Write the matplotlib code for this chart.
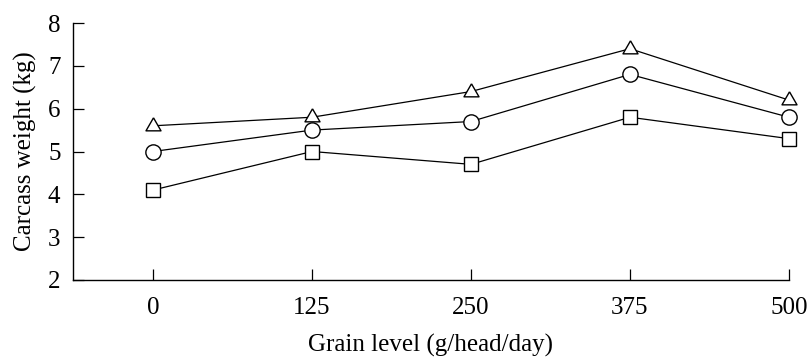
import matplotlib
matplotlib.use("Agg")
import matplotlib.pyplot as plt

grain = [0, 125, 250, 375, 500]
tri_vals = [5.6, 5.8, 6.4, 7.4, 6.2]
circ_vals = [5.0, 5.5, 5.7, 6.8, 5.8]
sq_vals = [4.1, 5.0, 4.7, 5.8, 5.3]
yticks = [2, 3, 4, 5, 6, 7, 8]

plt.rcParams['font.family'] = ['Liberation Serif', 'DejaVu Serif']
plt.rcParams['mathtext.fontset'] = 'stix'

fig = plt.figure(figsize=(8.09, 3.6), dpi=100)
ax = fig.add_axes([73/809, 1-280/360, (789-73)/809, (280-23)/360])

# triangle centred on its centroid
tri_marker = [(0, 2), (-1.73, -1), (1.73, -1), (0, 2)]

common = dict(color='black', lw=0.9, mfc='white', mec='black', mew=1, clip_on=False)
ax.plot(grain, tri_vals, marker=tri_marker, ms=12.5, **common)
ax.plot(grain, circ_vals, marker='o', ms=11, **common)
ax.plot(grain, sq_vals, marker='s', ms=9.4, **common)

ax.set_xlim(-500*80/636, 500)
ax.set_ylim(2, 8)
ax.set_xticks(grain)
ax.set_yticks(yticks)
ax.spines['top'].set_visible(False)
ax.spines['right'].set_visible(False)
for s in ('left', 'bottom'):
    ax.spines[s].set_linewidth(1)
ax.tick_params(axis='both', direction='in', length=8, width=0.9, labelsize=18)
ax.tick_params(axis='x', pad=12)
ax.tick_params(axis='y', pad=9)
ax.set_xlabel('Grain level (g/head/day)', fontsize=18, labelpad=11)
ax.set_ylabel('Carcass weight (kg)', fontsize=18, labelpad=8)

fig.savefig('out.png', dpi=100)
